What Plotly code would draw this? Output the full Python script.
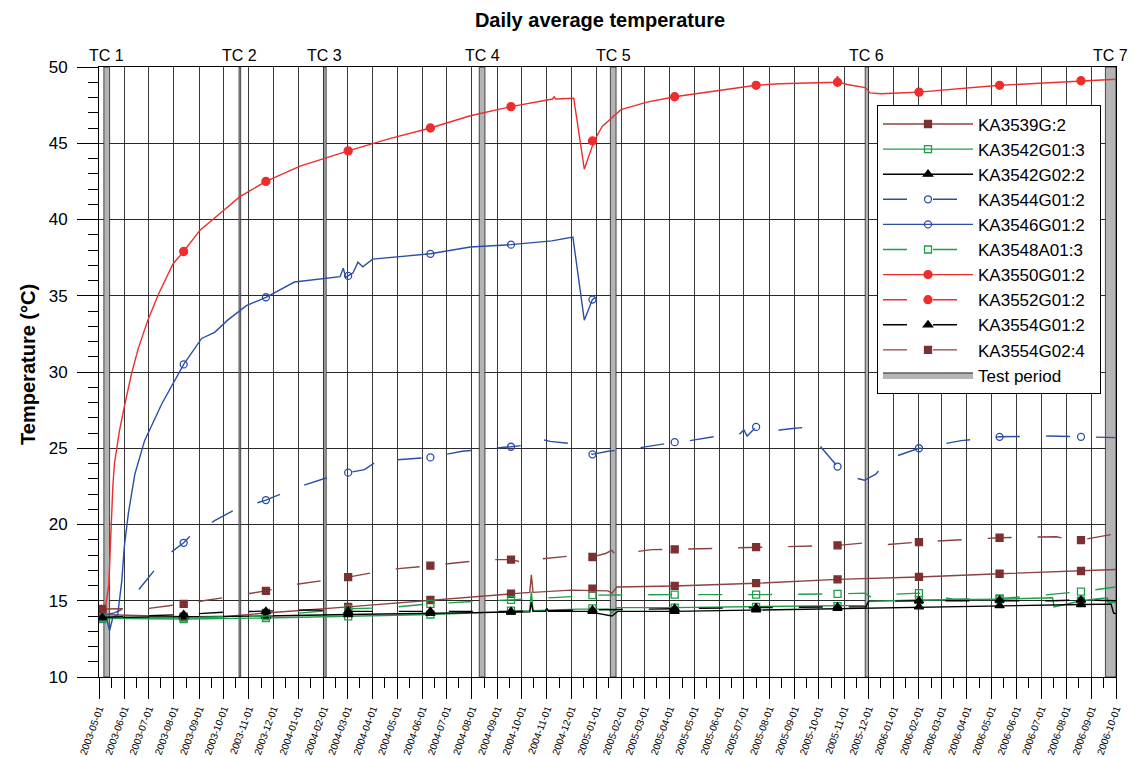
import plotly.graph_objects as go
import pandas as pd

# ---------------- data ----------------
marker_dates = ["2003-05-05", "2003-08-13", "2003-11-22", "2004-03-02", "2004-06-11",
                "2004-09-18", "2004-12-27", "2005-04-07", "2005-07-16", "2005-10-24",
                "2006-02-01", "2006-05-11", "2006-08-19"]

tc_names = ["TC 1", "TC 2", "TC 3", "TC 4", "TC 5", "TC 6", "TC 7"]
tc_start = ["2003-05-07", "2003-10-20", "2004-02-01", "2004-08-10", "2005-01-18", "2005-11-27", "2006-09-18"]
tc_end = ["2003-05-14", "2003-10-22", "2004-02-04", "2004-08-17", "2005-01-25", "2005-12-01", "2006-10-01"]

# KA3539G:2 (brown solid)
ka3539_x = ["2003-05-01", "2003-08-13", "2003-10-01", "2003-11-22", "2004-03-02", "2004-06-11",
            "2004-09-18", "2004-10-11", "2004-10-13", "2004-10-15", "2004-12-01", "2005-01-15",
            "2005-01-20", "2005-01-26", "2005-04-07", "2005-07-16", "2005-10-24", "2006-02-01",
            "2006-05-11", "2006-08-19", "2006-10-01"]
ka3539_y = [14.1, 13.95, 13.95, 14.2, 14.6, 15.05, 15.46, 15.55, 16.7, 15.55, 15.7, 15.65,
            15.5, 15.9, 15.97, 16.15, 16.4, 16.56, 16.77, 16.95, 17.05]
ka3539_m = [14.1, 13.95, 14.2, 14.6, 15.05, 15.46, 15.8, 15.97, 16.15, 16.4, 16.56, 16.77, 16.95]

# KA3542G01:3 (green solid)
ka3542a_x = ["2003-05-01", "2003-08-13", "2003-11-22", "2004-03-02", "2004-06-11", "2004-09-18",
             "2004-10-11", "2004-10-13", "2004-10-15", "2004-12-10", "2005-01-16", "2005-01-20",
             "2005-01-26", "2005-04-07", "2005-07-16", "2005-10-24", "2005-11-28", "2005-12-01",
             "2006-02-01", "2006-05-11", "2006-07-15", "2006-07-17", "2006-08-19", "2006-09-20",
             "2006-09-22", "2006-10-01"]
ka3542a_y = [13.85, 13.8, 13.87, 13.97, 14.1, 14.3, 14.35, 15.6, 14.35, 14.45, 14.45, 14.2,
             14.55, 14.55, 14.6, 14.65, 14.7, 14.95, 15.05, 15.1, 15.2, 14.6, 15.0, 15.2,
             14.85, 14.9]
ka3542a_m = [13.8, 13.8, 13.87, 13.97, 14.1, 14.35, 14.5, 14.55, 14.6, 14.65, 15.05, 15.1, 15.0]

# KA3542G02:2 (black solid)
ka3542b_x = ["2003-05-01", "2003-08-13", "2003-11-22", "2004-03-02", "2004-06-11", "2004-09-18",
             "2004-10-11", "2004-10-13", "2004-10-15", "2004-10-30", "2004-11-01", "2004-11-03",
             "2004-12-20", "2005-01-20", "2005-01-27", "2005-04-07", "2005-07-16", "2005-10-24",
             "2006-02-01", "2006-05-11", "2006-08-19", "2006-09-25", "2006-09-28", "2006-10-01"]
ka3542b_y = [13.9, 13.95, 14.0, 14.1, 14.18, 14.25, 14.27, 14.9, 14.3, 14.3, 14.5, 14.3,
             14.3, 14.0, 14.3, 14.3, 14.4, 14.5, 14.6, 14.68, 14.75, 14.78, 14.2, 14.15]
ka3542b_m = [13.9, 13.95, 14.0, 14.1, 14.18, 14.25, 14.3, 14.3, 14.4, 14.5, 14.6, 14.68, 14.75]

# KA3544G01:2 (blue dashed)
ka3544_x = ["2003-05-01", "2003-05-20", "2003-05-28", "2003-06-20", "2003-07-08", "2003-07-29",
            "2003-08-13", "2003-08-20", "2003-09-20", "2003-10-14", "2003-11-22", "2003-12-10",
            "2004-01-03", "2004-02-01", "2004-03-02", "2004-03-22", "2004-04-05", "2004-04-12",
            "2004-04-20", "2004-06-11", "2004-07-20", "2004-09-18", "2004-10-20", "2004-10-24",
            "2004-11-05", "2004-12-01", "2004-12-17", "2004-12-27", "2005-01-15", "2005-02-19",
            "2005-04-07", "2005-04-20", "2005-06-05", "2005-06-25", "2005-07-01", "2005-07-05",
            "2005-07-16", "2005-08-01", "2005-08-14", "2005-08-30", "2005-09-10", "2005-09-30",
            "2005-10-11", "2005-10-24", "2005-11-12", "2005-11-26", "2005-12-10", "2005-12-25",
            "2006-02-01", "2006-03-25", "2006-05-11", "2006-07-10", "2006-08-19", "2006-10-01"]
ka3544_y = [14.0, 14.2, 14.4, 15.8, 17.0, 18.2, 18.8, 19.2, 20.25, 20.95, 21.6, 22.0,
            22.5, 23.0, 23.4, 23.6, 24.1, 23.9, 24.2, 24.4, 24.8, 25.1, 25.3, 25.6,
            25.45, 25.3, 25.0, 24.6, 24.8, 25.0, 25.4, 25.45, 25.85, 25.9, 26.2, 25.8,
            26.4, 26.0, 26.2, 26.3, 26.35, 25.3, 24.6, 23.8, 23.1, 22.9, 23.3, 24.3,
            25.0, 25.5, 25.75, 25.8, 25.75, 25.7]
ka3544_m = [14.0, 18.8, 21.6, 23.4, 24.4, 25.1, 24.6, 25.4, 26.4, 23.8, 25.0, 25.75, 25.75]

# KA3546G01:2 (blue solid)
ka3546_x = ["2003-05-01", "2003-05-04", "2003-05-10", "2003-05-14", "2003-05-18", "2003-05-24",
            "2003-05-29", "2003-06-01", "2003-06-06", "2003-06-14", "2003-06-26", "2003-07-17",
            "2003-08-13", "2003-09-04", "2003-09-20", "2003-10-06", "2003-10-29", "2003-11-22",
            "2003-12-27", "2004-02-01", "2004-02-21", "2004-02-25", "2004-02-28", "2004-03-02",
            "2004-03-08", "2004-03-14", "2004-03-20", "2004-04-01", "2004-04-28", "2004-06-11",
            "2004-07-30", "2004-09-18", "2004-11-07", "2004-12-03", "2004-12-17", "2004-12-27",
            "2004-12-31"]
ka3546_y = [14.0, 13.9, 13.9, 13.05, 13.9, 14.1, 16.3, 18.5, 20.7, 23.3, 25.5, 27.9,
            30.5, 32.2, 32.6, 33.4, 34.35, 34.9, 35.9, 36.1, 36.25, 36.8, 36.2, 36.3,
            36.5, 37.2, 36.9, 37.4, 37.55, 37.75, 38.2, 38.35, 38.6, 38.85, 33.4, 34.75,
            34.9]
ka3546_m = [13.9, 30.5, 34.9, 36.3, 37.75, 38.35, 34.75]

# KA3548A01:3 (green dashed)
ka3548_x = ["2003-05-01", "2003-08-13", "2003-11-22", "2004-03-02", "2004-04-22", "2004-06-11",
            "2004-08-20", "2004-09-18", "2004-12-01", "2004-12-27", "2005-04-07", "2005-07-16",
            "2005-10-24", "2005-11-27", "2005-12-05", "2005-12-20", "2006-02-01", "2006-03-15",
            "2006-05-11", "2006-06-20", "2006-08-19", "2006-10-01"]
ka3548_y = [13.9, 13.9, 14.0, 14.47, 14.55, 14.8, 15.0, 15.06, 15.27, 15.37, 15.4, 15.4,
            15.45, 15.5, 15.2, 15.4, 15.5, 15.1, 15.15, 15.3, 15.6, 15.9]
ka3548_m = [13.9, 13.9, 14.0, 14.47, 14.8, 15.06, 15.37, 15.4, 15.4, 15.45, 15.5, 15.15, 15.6]

# KA3550G01:2 (red solid)
ka3550_x = ["2003-05-01", "2003-05-09", "2003-05-13", "2003-05-15", "2003-05-18", "2003-05-20",
            "2003-05-26", "2003-06-01", "2003-06-10", "2003-06-18", "2003-06-30", "2003-07-13",
            "2003-07-23", "2003-07-31", "2003-08-13", "2003-09-02", "2003-09-20", "2003-10-21",
            "2003-11-22", "2004-01-03", "2004-03-02", "2004-04-22", "2004-06-11", "2004-07-30",
            "2004-09-18", "2004-11-08", "2004-11-10", "2004-11-12", "2004-12-04", "2004-12-17",
            "2004-12-29", "2005-01-08", "2005-01-31", "2005-03-04", "2005-04-07", "2005-07-16",
            "2005-08-14", "2005-10-22", "2005-10-24", "2005-10-26", "2005-11-05", "2005-11-27",
            "2005-12-03", "2005-12-16", "2006-01-07", "2006-02-01", "2006-05-11", "2006-08-19",
            "2006-10-01"]
ka3550_y = [14.5, 14.6, 16.0, 19.0, 22.5, 24.0, 26.1, 27.7, 29.9, 31.5, 33.4, 35.1,
            36.2, 37.1, 37.9, 39.3, 40.1, 41.5, 42.5, 43.5, 44.5, 45.3, 46.0, 46.8,
            47.4, 47.9, 48.05, 47.9, 47.95, 43.3, 45.15, 46.1, 47.2, 47.7, 48.05, 48.8,
            48.9, 49.0, 49.4, 49.0, 48.85, 48.65, 48.3, 48.25, 48.3, 48.35, 48.8, 49.1,
            49.2]
ka3550_m = [14.4, 37.9, 42.5, 44.5, 46.0, 47.4, 45.15, 48.05, 48.8, 49.0, 48.35, 48.8, 49.1]

# KA3552G01:2 (red dashed) - no visible data
ka3552_x = []
ka3552_y = []
ka3552_m = []

# KA3554G01:2 (black dashed)
ka3554a_x = ["2003-05-01", "2003-08-13", "2003-10-01", "2003-11-22", "2004-01-15", "2004-03-02",
             "2004-06-11", "2004-09-18", "2004-12-27", "2005-04-07", "2005-07-16", "2005-10-24",
             "2005-11-28", "2005-12-01", "2006-02-01", "2006-05-11", "2006-07-15", "2006-08-19",
             "2006-10-01"]
ka3554a_y = [13.9, 14.1, 14.25, 14.3, 14.4, 14.3, 14.3, 14.3, 14.4, 14.5, 14.55, 14.6,
             14.6, 14.95, 15.0, 15.0, 15.0, 15.05, 15.0]
ka3554a_m = [13.9, 14.1, 14.3, 14.3, 14.3, 14.3, 14.4, 14.5, 14.55, 14.6, 15.0, 15.05, 15.05]

# KA3554G02:4 (brown dashed)
ka3554b_x = ["2003-05-01", "2003-05-05", "2003-07-01", "2003-08-13", "2003-10-01", "2003-11-22",
             "2004-01-01", "2004-03-02", "2004-04-22", "2004-06-11", "2004-08-20", "2004-09-18",
             "2004-10-12", "2004-10-20", "2004-10-26", "2004-12-03", "2004-12-27", "2005-01-12",
             "2005-01-20", "2005-01-25", "2005-02-01", "2005-03-10", "2005-04-07", "2005-07-16",
             "2005-10-24", "2005-11-28", "2005-12-15", "2006-02-01", "2006-05-11", "2006-07-20",
             "2006-08-05", "2006-08-19", "2006-10-01"]
ka3554b_y = [14.5, 14.46, 14.5, 14.8, 15.2, 15.65, 16.1, 16.55, 17.05, 17.3, 17.7, 17.7,
             17.4, 17.45, 17.75, 17.95, 17.87, 18.1, 18.3, 17.95, 18.1, 18.35, 18.37, 18.52,
             18.63, 18.8, 18.65, 18.85, 19.13, 19.2, 19.0, 18.98, 19.4]
ka3554b_m = [14.46, 14.8, 15.65, 16.55, 17.3, 17.7, 17.87, 18.37, 18.52, 18.63, 18.85, 19.13, 18.98]

# ---------------- styles ----------------
BROWN = "#7d3030"
BROWN_L = "#8c4242"
GREEN = "#1e9e4a"
BLUE = "#2b4ea5"
RED = "#ee2d2d"
BLACK = "#000000"
DASH = "24px,26px"
FONT = "Liberation Sans, Arial, sans-serif"

series = [
    ("KA3539G:2", ka3539_x, ka3539_y, ka3539_m, BROWN_L, BROWN, "solid", "square", 7),
    ("KA3542G01:3", ka3542a_x, ka3542a_y, ka3542a_m, GREEN, GREEN, "solid", "square-open", 7),
    ("KA3542G02:2", ka3542b_x, ka3542b_y, ka3542b_m, BLACK, BLACK, "solid", "triangle-up", 8),
    ("KA3544G01:2", ka3544_x, ka3544_y, ka3544_m, BLUE, BLUE, DASH, "circle-open", 7),
    ("KA3546G01:2", ka3546_x, ka3546_y, ka3546_m, BLUE, BLUE, "solid", "circle-open", 7),
    ("KA3548A01:3", ka3548_x, ka3548_y, ka3548_m, GREEN, GREEN, DASH, "square-open", 7),
    ("KA3550G01:2", ka3550_x, ka3550_y, ka3550_m, RED, RED, "solid", "circle", 8),
    ("KA3552G01:2", ka3552_x, ka3552_y, ka3552_m, RED, RED, DASH, "circle", 8),
    ("KA3554G01:2", ka3554a_x, ka3554a_y, ka3554a_m, BLACK, BLACK, DASH, "triangle-up", 8),
    ("KA3554G02:4", ka3554b_x, ka3554b_y, ka3554b_m, BROWN_L, BROWN, DASH, "square", 7),
]

fig = go.Figure()

# test periods as filled rectangles
xs, ys = [], []
for s, e in zip(tc_start, tc_end):
    xs += [s, s, e, e, s, None]
    ys += [10, 50, 50, 10, 10, None]
fig.add_trace(go.Scatter(x=xs, y=ys, fill="toself", fillcolor="#b4b4b4", mode="lines",
                         line=dict(color="#222222", width=0.8), name="Test period",
                         showlegend=False, hoverinfo="skip"))

for name, x, y, m, lc, mc, dash, sym, ms in series:
    if x:
        fig.add_trace(go.Scatter(x=x, y=y, mode="lines", line=dict(color=lc, width=1.4, dash=dash),
                                 showlegend=False, legendgroup=name, hoverinfo="skip"))
    if m:
        fig.add_trace(go.Scatter(x=marker_dates[:len(m)], y=m, mode="markers",
                                 marker=dict(symbol=sym, size=ms, color=mc, line=dict(color=mc, width=1.3)),
                                 showlegend=False, legendgroup=name, hoverinfo="skip"))

for name, x, y, m, lc, mc, dash, sym, ms in series:
    fig.add_trace(go.Scatter(x=[None], y=[None], mode="lines+markers", name=name + "\u00a0\u00a0",
                             legendgroup=name,
                             line=dict(color=lc, width=1.4, dash=dash),
                             marker=dict(symbol=sym, size=ms, color=mc, line=dict(color=mc, width=1.3))))

fig.add_trace(go.Scatter(x=[None, None, None, None], y=[None, None, None, None], fill="toself",
                         fillcolor="#b4b4b4", mode="lines", line=dict(color="#222222", width=1),
                         name="Test period"))

# minor x ticks at mid-month
minor_x = [d.strftime("%Y-%m-%d") for d in
           (pd.date_range("2003-05-01", "2006-09-01", freq="MS") + pd.Timedelta(days=15))]

annotations = []
for n, s, e in zip(tc_names, tc_start, tc_end):
    mid = pd.Timestamp(s) + (pd.Timestamp(e) - pd.Timestamp(s)) / 2
    annotations.append(dict(text=n, x=mid.strftime("%Y-%m-%d %H:%M"), xref="x", y=1, yref="paper",
                            yanchor="bottom", yshift=1, showarrow=False,
                            font=dict(size=16, color="black", family=FONT)))
annotations.append(dict(text="<b>Temperature (°C)</b>", x=-0.07, xref="paper", y=0.513, yref="paper",
                        textangle=-90, showarrow=False, xanchor="center", yanchor="middle",
                        font=dict(size=20, color="black", family=FONT)))

fig.update_layout(
    width=1135, height=758,
    margin=dict(l=99, r=19, t=67, b=81, autoexpand=False),
    paper_bgcolor="white", plot_bgcolor="white",
    font=dict(family=FONT, color="black"),
    title=dict(text="<b>Daily average temperature</b>", x=600 / 1135, xref="container", xanchor="center",
               y=1 - 20 / 758, yref="container", yanchor="middle", font=dict(size=20, color="black")),
    showlegend=True,
    legend=dict(x=0.765, y=0.937, xanchor="left", yanchor="top", bgcolor="white",
                bordercolor="black", borderwidth=1, font=dict(size=17, color="black"),
                itemwidth=90, traceorder="normal", tracegroupgap=0),
    annotations=annotations,
)

fig.update_xaxes(
    type="date", range=["2003-05-01", "2006-10-01"], automargin=False,
    dtick="M1", tick0="2003-05-01", tickformat="%Y-%m-%d", tickangle=-70,
    tickfont=dict(size=10, color="black"),
    ticks="outside", ticklen=21, tickcolor="black", tickwidth=1,
    showgrid=True, gridcolor="#3a3a3a", gridwidth=1,
    showline=True, linecolor="black", linewidth=1, mirror=True,
    minor=dict(tickmode="array", tickvals=minor_x, ticks="outside", ticklen=10,
               tickcolor="black", tickwidth=1, showgrid=False),
    zeroline=False,
)
fig.update_yaxes(
    range=[10, 50], dtick=5, tick0=10, automargin=False,
    tickfont=dict(size=17, color="black"),
    ticks="outside", ticklen=21, tickcolor="black", tickwidth=1, ticklabelstandoff=6,
    showgrid=True, gridcolor="#2a2a2a", gridwidth=1,
    showline=True, linecolor="black", linewidth=1, mirror=True,
    minor=dict(dtick=1, ticks="outside", ticklen=10, tickcolor="black", tickwidth=1, showgrid=False),
    zeroline=False,
)

fig.write_html("out.html")
